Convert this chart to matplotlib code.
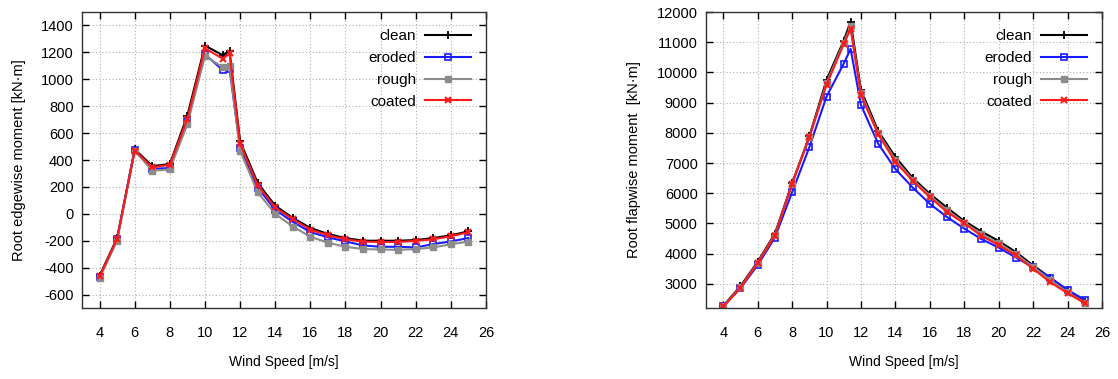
import matplotlib
matplotlib.use('Agg')
import matplotlib.pyplot as plt

plt.rcParams['font.family'] = ['Liberation Sans', 'DejaVu Sans']
plt.rcParams['font.size'] = 10.5
plt.rcParams['axes.unicode_minus'] = False

# wind speeds (m/s)
wind = [4, 5, 6, 7, 8, 9, 10, 11, 11.4, 12, 13, 14, 15, 16, 17, 18, 19, 20, 21, 22, 23, 24, 25]

# root edgewise moment [kN m]
edge_clean = [-460, -180, 480, 355, 370, 730, 1250, 1180, 1210, 540, 230, 60, -30, -105,
              -150, -180, -200, -200, -200, -195, -180, -160, -130]
edge_eroded = [-470, -190, 475, 335, 340, 690, 1185, 1070, 1080, 490, 195, 30, -60, -135,
               -175, -205, -235, -245, -245, -250, -225, -205, -180]
edge_rough = [-480, -200, 470, 320, 330, 665, 1175, 1090, 1100, 470, 160, 0, -95, -170,
              -215, -245, -262, -265, -268, -262, -250, -226, -207]
edge_coated = [-465, -185, 470, 345, 365, 706, 1230, 1154, 1192, 520, 214, 47, -40, -117,
               -159, -189, -207, -209, -209, -201, -189, -167, -137]

# root flapwise moment [kN m]
flap_clean = [2270, 2920, 3730, 4660, 6330, 7880, 9750, 11050, 11680, 9420, 8060, 7200, 6510,
              5980, 5520, 5080, 4730, 4420, 4050, 3610, 3200, 2780, 2400]
flap_eroded = [2250, 2850, 3620, 4530, 6030, 7520, 9200, 10290, 10780, 8920, 7640, 6800, 6190,
               5650, 5210, 4830, 4480, 4200, 3870, 3550, 3200, 2800, 2470]
flap_rough = [2260, 2880, 3700, 4620, 6300, 7850, 9650, 10990, 11520, 9320, 7990, 7110, 6450,
              5920, 5440, 5030, 4650, 4340, 3990, 3560, 3120, 2720, 2380]
flap_coated = [2250, 2870, 3690, 4600, 6310, 7850, 9590, 10940, 11440, 9250, 7950, 7040, 6410,
               5870, 5380, 5000, 4590, 4280, 3940, 3500, 3050, 2690, 2360]

labels = ['clean', 'eroded', 'rough', 'coated']
xticks = list(range(4, 27, 2))
edge_ticks = list(range(-600, 1401, 200))
flap_ticks = list(range(3000, 12001, 1000))


def draw(ax, series, ylim, yticks, ylabel):
    styles = [
        dict(color='black', marker='+', ms=6, mew=1.3),
        dict(color='#1a1aff', marker='s', ms=3.8, mfc='none', mew=1.2),
        dict(color='#8c8c8c', marker='s', ms=4.5),
        dict(color='#ff1a1a', marker='x', ms=5, mew=1.5),
    ]
    for y, lab, st in zip(series, labels, styles):
        ax.plot(wind, y, lw=1.5, label=lab, **st)
    ax.set_xlim(3, 26)
    ax.set_ylim(*ylim)
    ax.set_xticks(xticks)
    ax.set_yticks(yticks)
    ax.grid(True, color='#b0b0b0', linestyle=(0, (1, 2)), linewidth=0.8)
    ax.tick_params(direction='in', top=True, right=True, length=5, width=1)
    ax.tick_params(axis='x', pad=13)
    ax.tick_params(axis='y', pad=6)
    for s in ax.spines.values():
        s.set_linewidth(1)
        s.set_color('#333333')
    ax.set_xlabel('Wind Speed [m/s]', labelpad=11, fontsize=10)
    ax.set_ylabel(ylabel, labelpad=11, fontsize=10.5)
    ax.legend(loc='upper right', bbox_to_anchor=(1 - 15 / 404, 1 - 17 / 296),
              frameon=False, markerfirst=False, borderaxespad=0, borderpad=0,
              handlelength=3.0, handletextpad=0.6, labelspacing=0.52, fontsize=11)


fig = plt.figure(figsize=(11.18, 3.79), dpi=100)
ax1 = fig.add_axes([82 / 1118, 71 / 379, 404 / 1118, 296 / 379])
ax2 = fig.add_axes([706 / 1118, 71 / 379, 396 / 1118, 296 / 379])

draw(ax1, [edge_clean, edge_eroded, edge_rough, edge_coated], (-700, 1500), edge_ticks,
     'Root edgewise moment [kN\u00b7m]')
draw(ax2, [flap_clean, flap_eroded, flap_rough, flap_coated], (2200, 12000), flap_ticks,
     'Root flapwise moment  [kN\u00b7m]')

fig.savefig('out.png', dpi=100)
